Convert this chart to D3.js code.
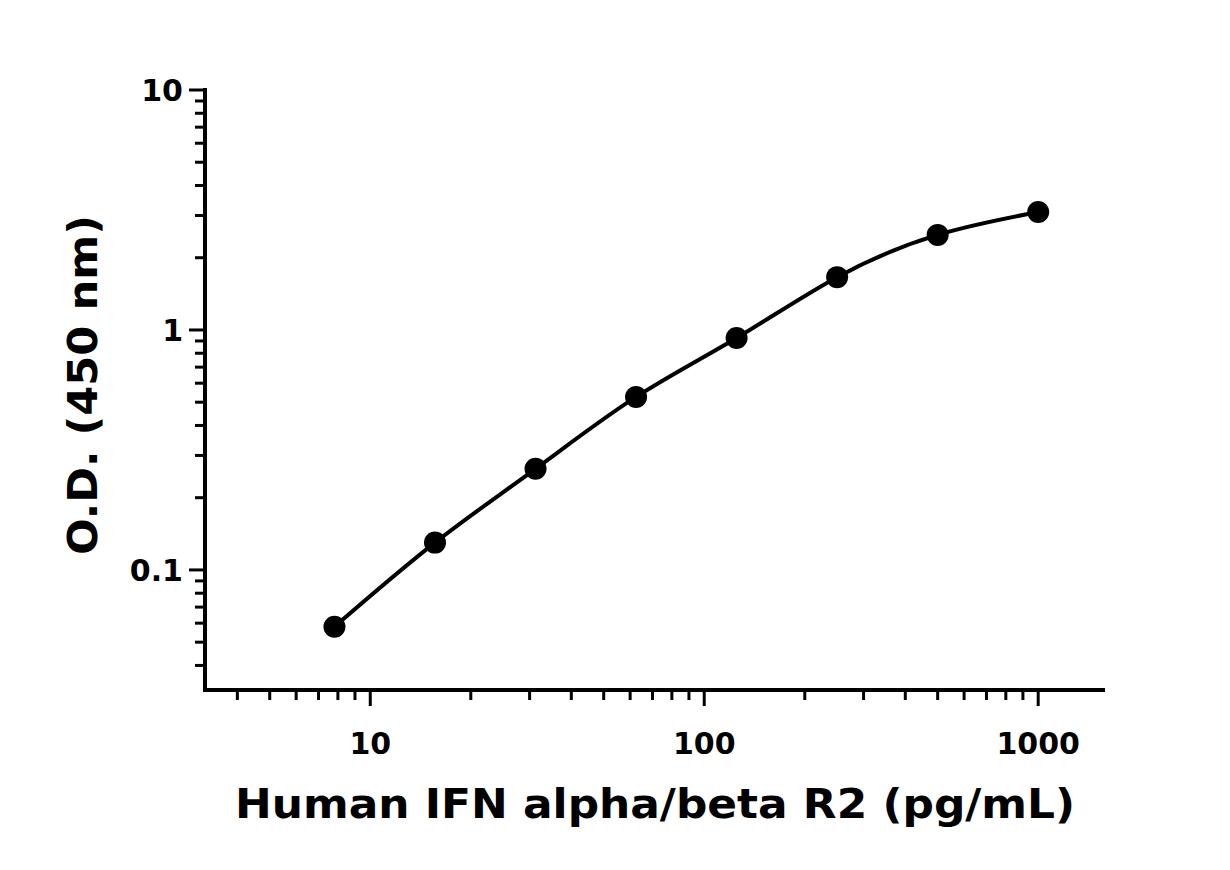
<!DOCTYPE html>
<html><head><meta charset="utf-8">
<script src="https://cdn.jsdelivr.net/npm/d3@7"></script>
<style>body{margin:0;background:#fff}</style>
</head><body>
<script>
var conc = [7.8125, 15.625, 31.25, 62.5, 125, 250, 500, 1000];
var od = [0.058, 0.13, 0.264, 0.526, 0.926, 1.66, 2.49, 3.1];
var xTickLabels = [10, 100, 1000];
var yTickLabels = [0.1, 1, 10];

var W = 1230, H = 870;
var svg = d3.select('body').append('svg').attr('width', W).attr('height', H);

var x = d3.scaleLog().domain([3.2, 1585]).range([205, 1105]);
var y = d3.scaleLog().domain([0.0316, 10]).range([690, 90]);

function minorTicks(lo, hi) {
  var t = [];
  for (var e = -3; e <= 4; e++) for (var m = 1; m < 10; m++) {
    var v = m * Math.pow(10, e);
    if (v >= lo && v <= hi) t.push(v);
  }
  return t;
}

var font = '"DejaVu Sans", sans-serif';
var g = svg.append('g');

// x axis
var xa = g.append('g').attr('transform', 'translate(0,690)');
xa.append('line').attr('x1', 205).attr('x2', 1105).attr('stroke', '#000').attr('stroke-width', 4);
xa.selectAll('.mt').data(minorTicks(4, 1585)).enter().append('line')
  .attr('x1', d => x(d)).attr('x2', d => x(d)).attr('y1', 0)
  .attr('y2', d => xTickLabels.indexOf(d) >= 0 ? 16 : 10)
  .attr('stroke', '#000').attr('stroke-width', 3);
xa.selectAll('text').data(xTickLabels).enter().append('text')
  .attr('x', d => x(d)).attr('y', 64).attr('text-anchor', 'middle')
  .style('font', 'bold 30px ' + font).text(d => d);

// y axis
var ya = g.append('g').attr('transform', 'translate(205,0)');
ya.append('line').attr('y1', 88).attr('y2', 692).attr('stroke', '#000').attr('stroke-width', 4);
ya.selectAll('.mt').data(minorTicks(0.0316, 10)).enter().append('line')
  .attr('y1', d => y(d)).attr('y2', d => y(d)).attr('x1', 0)
  .attr('x2', d => yTickLabels.indexOf(d) >= 0 ? -16 : -10)
  .attr('stroke', '#000').attr('stroke-width', 3);
ya.selectAll('text').data(yTickLabels).enter().append('text')
  .attr('x', -22).attr('y', d => y(d) + 11).attr('text-anchor', 'end')
  .style('font', 'bold 30px ' + font).text(d => d);

// titles
svg.append('text').attr('x', 655).attr('y', 818).attr('text-anchor', 'middle')
  .attr('textLength', 840).attr('lengthAdjust', 'spacingAndGlyphs')
  .style('font', 'bold 40px ' + font).text('Human IFN alpha/beta R2 (pg/mL)');
svg.append('text').attr('transform', 'translate(97,385) rotate(-90)').attr('text-anchor', 'middle')
  .attr('textLength', 340).attr('lengthAdjust', 'spacingAndGlyphs')
  .style('font', 'bold 40px ' + font).text('O.D. (450 nm)');

// curve and points
var pts = conc.map((c, i) => [c, od[i]]);
svg.append('path').datum(pts)
  .attr('d', d3.line().x(d => x(d[0])).y(d => y(d[1])).curve(d3.curveNatural))
  .attr('fill', 'none').attr('stroke', '#000').attr('stroke-width', 4);
svg.selectAll('circle').data(pts).enter().append('circle')
  .attr('cx', d => x(d[0])).attr('cy', d => y(d[1])).attr('r', 11).attr('fill', '#000');
</script>
</body></html>
